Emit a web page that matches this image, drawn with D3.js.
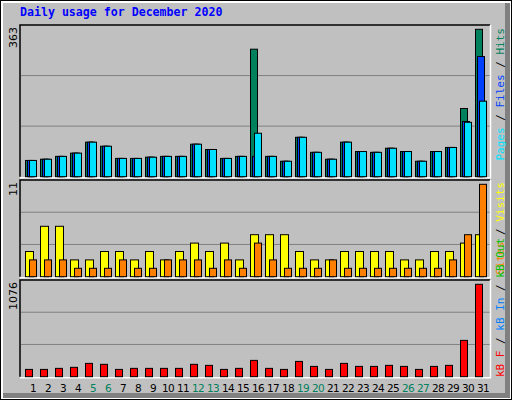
<!DOCTYPE html>
<html><head><meta charset="utf-8">
<script src="https://cdn.jsdelivr.net/npm/d3@7"></script>
<style>body{margin:0;background:#fff}svg{display:block}</style>
</head><body>
<script>
const days = d3.range(1, 32);
const weekend = [5,6,12,13,19,20,26,27];
const hits  = [40,43,50,58,85,75,45,45,48,50,50,80,67,45,50,314,50,38,97,60,43,85,62,60,70,62,38,62,72,168,363];
const files = [40,43,50,58,85,75,45,45,48,50,50,80,67,45,50,50,50,38,97,60,43,85,62,60,70,62,38,62,72,136,296];
const pages = [40,43,50,58,85,75,45,45,48,50,50,80,67,45,50,107,50,38,97,60,43,85,62,60,70,62,38,62,72,134,186];
const visits = [3,6,6,2,2,3,3,2,3,2,3,4,3,4,2,5,5,5,3,2,2,3,3,3,3,2,2,3,3,4,5];
const sites  = [2,2,2,1,1,1,2,1,1,2,2,2,1,2,1,4,2,1,1,1,2,1,1,1,1,1,1,1,2,5,11];
const kbytes = [85,85,97,109,155,144,85,97,97,97,97,144,132,85,97,190,97,85,178,120,85,155,120,120,132,120,85,120,132,423,1076];
const maxLabels = ["363","11","1076"];

const svg = d3.select("body").append("svg").attr("width",512).attr("height",400);
svg.append("rect").attr("x",0).attr("y",0).attr("width",512).attr("height",400).attr("fill","#000");
svg.append("rect").attr("x",1).attr("y",1).attr("width",510).attr("height",398).attr("fill","#fff");
svg.append("rect").attr("x",3).attr("y",3).attr("width",507).attr("height",395).attr("fill","#808080");
svg.append("rect").attr("x",3).attr("y",3).attr("width",502).attr("height",390).attr("fill","#C0C0C0");

svg.append("text").attr("x",20).attr("y",16).text("Daily usage for December 2020")
  .attr("font-family","DejaVu Sans Mono").attr("font-weight","bold").attr("font-size","11.6px").attr("fill","#0000FF");

const x = d3.scaleLinear().domain([1,31]).range([25,475]);
const panels = [
  {top:25, bot:176.7, ymax:29.3, max:363},
  {top:180, bot:276.7, ymax:184.3, max:11},
  {top:280, bot:376.7, ymax:284.3, max:1076}
];
panels.forEach((p,i)=>{
  p.y = d3.scaleLinear().domain([0,p.max]).range([p.bot,p.ymax]);
  svg.append("rect").attr("x",20).attr("y",p.top).attr("width",470).attr("height",p.bot-p.top).attr("fill","#C0C0C0");
  const h = p.bot - p.top;
  [1,2].forEach(k=>svg.append("line").attr("x1",21).attr("x2",490).attr("y1",p.top+h*k/3).attr("y2",p.top+h*k/3).attr("stroke","#808080").attr("stroke-width",1));
  svg.append("path").attr("d",`M20,${p.bot}V${p.top}H490`).attr("fill","none").attr("stroke","#000").attr("stroke-width",1.5);
  svg.append("path").attr("d",`M490.5,${p.top}V${p.bot+1}H20`).attr("fill","none").attr("stroke","#fff").attr("stroke-width",1.5);
  svg.append("text").attr("transform",`translate(17,${p.top+2}) rotate(-90)`).attr("text-anchor","end")
    .attr("font-family","DejaVu Sans").attr("font-size","11px").text(maxLabels[i]);
});

function bars(data, panel, off, w, color){
  const p = panels[panel];
  svg.append("g").selectAll("rect").data(data).join("rect")
    .attr("x",(d,i)=>x(days[i])+off+0.5).attr("width",w)
    .attr("y",d=>p.y(d)).attr("height",d=>p.bot-p.y(d))
    .attr("fill",color).attr("stroke","#000").attr("stroke-width",1);
}
bars(hits,0,0,7,"#00805C");
bars(files,0,2,7,"#0040FF");
bars(pages,0,4,7,"#00E0FF");
bars(visits,1,0,8,"#FFFF00");
bars(sites,1,4,7,"#FF8000");
bars(kbytes,2,0,7,"#FF0000");

svg.append("g").selectAll("text").data(days).join("text")
  .attr("x",d=>x(d)+8).attr("y",392).attr("text-anchor","middle")
  .attr("font-family","DejaVu Sans").attr("font-size","10.5px").attr("letter-spacing","-0.6px")
  .attr("fill",d=>weekend.includes(d)?"#00805C":"#000").text(d=>d);

function sideLabel(y, anchor, parts){
  const t = svg.append("text").attr("transform",`translate(504,${y}) rotate(-90)`).attr("text-anchor",anchor)
    .attr("font-family","DejaVu Sans Mono").attr("font-size","11px");
  parts.forEach(([s,c])=>t.append("tspan").attr("fill",c).text(s));
}
sideLabel(28,"end",[["Pages","#00E0FF"],[" / ","#000"],["Files","#0040FF"],[" / ","#000"],["Hits","#00805C"]]);
sideLabel(182,"end",[["Sites","#FF8000"],[" / ","#000"],["Visits","#FFFF00"]]);
sideLabel(377,"start",[["kB F","#FF0000"],[" / ","#000"],["kB In","#0080FF"],[" / ","#000"],["kB Out","#00C000"]]);
</script>
</body></html>
